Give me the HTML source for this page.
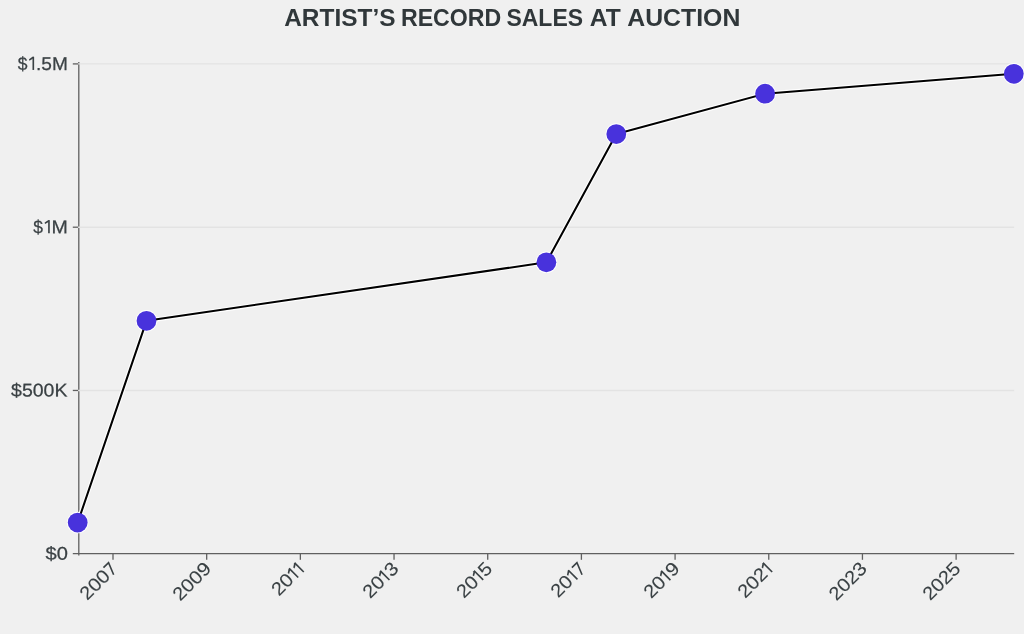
<!DOCTYPE html>
<html><head><meta charset="utf-8">
<style>
html,body{margin:0;padding:0;background:#f0f0f0;}
body{width:1024px;height:634px;overflow:hidden;font-family:"Liberation Sans",sans-serif;}
svg{display:block;will-change:transform;}
text{font-family:"Liberation Sans",sans-serif;}
</style></head><body>
<svg width="1024" height="634" viewBox="0 0 1024 634">

<g font-size="24.3" font-weight="bold" fill="#30373a">
<text transform="translate(284.24,26.4) rotate(0.02)" textLength="111.23" lengthAdjust="spacingAndGlyphs">ARTIST’S</text>
<text transform="translate(400.98,26.4) rotate(0.02)" textLength="100.22" lengthAdjust="spacingAndGlyphs">RECORD</text>
<text transform="translate(506.47,26.4) rotate(0.02)" textLength="76.57" lengthAdjust="spacingAndGlyphs">SALES</text>
<text transform="translate(589.73,26.4) rotate(0.02)" textLength="30.96" lengthAdjust="spacingAndGlyphs">AT</text>
<text transform="translate(627.23,26.4) rotate(0.02)" textLength="113.10" lengthAdjust="spacingAndGlyphs">AUCTION</text>
</g>
<g stroke="#606060" stroke-width="1.3" fill="none">
<line x1="78.8" x2="78.8" y1="62" y2="555.6"/>
<line x1="72.8" x2="1014.2" y1="553.7" y2="553.7"/>
<line x1="72.8" x2="78.8" y1="63.9" y2="63.9"/>
<line x1="72.8" x2="78.8" y1="227.2" y2="227.2"/>
<line x1="72.8" x2="78.8" y1="390.45" y2="390.45"/>
<line x1="113.00" x2="113.00" y1="553.7" y2="559.8"/>
<line x1="206.68" x2="206.68" y1="553.7" y2="559.8"/>
<line x1="300.36" x2="300.36" y1="553.7" y2="559.8"/>
<line x1="394.04" x2="394.04" y1="553.7" y2="559.8"/>
<line x1="487.72" x2="487.72" y1="553.7" y2="559.8"/>
<line x1="581.40" x2="581.40" y1="553.7" y2="559.8"/>
<line x1="675.08" x2="675.08" y1="553.7" y2="559.8"/>
<line x1="768.76" x2="768.76" y1="553.7" y2="559.8"/>
<line x1="862.44" x2="862.44" y1="553.7" y2="559.8"/>
<line x1="956.12" x2="956.12" y1="553.7" y2="559.8"/>
</g>
<g stroke="#e3e3e3" stroke-width="1.4">
<line x1="78.1" x2="1014.2" y1="63.9" y2="63.9"/>
<line x1="78.1" x2="1014.2" y1="227.2" y2="227.2"/>
<line x1="78.1" x2="1014.2" y1="390.45" y2="390.45"/>
</g>
<g font-size="18.5" fill="#3a4144" stroke="#3a4144" stroke-width="0.25">
<text transform="translate(17.69,69.95) rotate(0.03)" textLength="9.70" lengthAdjust="spacingAndGlyphs">$</text>
<text transform="translate(35.96,69.95) rotate(0.03)" textLength="31.82" lengthAdjust="spacingAndGlyphs">.5M</text>
<text transform="translate(33.29,233.25) rotate(0.03)" textLength="9.70" lengthAdjust="spacingAndGlyphs">$</text>
<text transform="translate(51.42,233.25) rotate(0.03)" textLength="16.32" lengthAdjust="spacingAndGlyphs">M</text>
<text transform="translate(11.04,396.50) rotate(0.03)" textLength="56.43" lengthAdjust="spacingAndGlyphs">$500K</text>
<text transform="translate(45.53,559.75) rotate(0.03)" textLength="22.31" lengthAdjust="spacingAndGlyphs">$0</text>
</g>
<path d="M33.30 69.95V56.85" fill="none" stroke="#3a4144" stroke-width="1.65"/><path d="M34.12 56.85L32.47 56.85L29.00 59.15L29.40 60.75L32.47 58.95Z" fill="#3a4144" stroke="none"/>
<path d="M48.95 233.25V220.15" fill="none" stroke="#3a4144" stroke-width="1.65"/><path d="M49.78 220.15L48.12 220.15L44.65 222.45L45.05 224.05L48.12 222.25Z" fill="#3a4144" stroke="none"/>
<g font-size="18.8" fill="#3a4144" stroke="#3a4144" stroke-width="0.1">
<g transform="translate(118.60,569.80) rotate(-45)">
<text x="-44.20" y="0" textLength="11.00" lengthAdjust="spacingAndGlyphs">2</text>
<text x="-33.20" y="0" textLength="11.40" lengthAdjust="spacingAndGlyphs">0</text>
<text x="-21.80" y="0" textLength="11.40" lengthAdjust="spacingAndGlyphs">0</text>
<path d="M-9.20 -12.20H-2.00L-7.00 0.00" fill="none" stroke="#3a4144" stroke-width="1.6" stroke-linejoin="miter" stroke-miterlimit="10"/>
</g>
<g transform="translate(212.28,569.80) rotate(-45)">
<text x="-45.20" y="0" textLength="11.00" lengthAdjust="spacingAndGlyphs">2</text>
<text x="-34.20" y="0" textLength="11.40" lengthAdjust="spacingAndGlyphs">0</text>
<text x="-22.80" y="0" textLength="11.40" lengthAdjust="spacingAndGlyphs">0</text>
<text x="-11.40" y="0" textLength="11.40" lengthAdjust="spacingAndGlyphs">9</text>
</g>
<g transform="translate(305.96,569.80) rotate(-45)">
<text x="-38.00" y="0" textLength="11.00" lengthAdjust="spacingAndGlyphs">2</text>
<text x="-27.00" y="0" textLength="11.40" lengthAdjust="spacingAndGlyphs">0</text>
<path d="M-10.90 0.00V-12.90" fill="none" stroke="#3a4144" stroke-width="1.65"/><path d="M-10.07 -12.90L-11.72 -12.90L-15.20 -10.60L-14.80 -9.00L-11.72 -10.80Z" fill="#3a4144" stroke="none"/>
<path d="M-3.10 0.00V-12.90" fill="none" stroke="#3a4144" stroke-width="1.65"/><path d="M-2.27 -12.90L-3.92 -12.90L-7.40 -10.60L-7.00 -9.00L-3.92 -10.80Z" fill="#3a4144" stroke="none"/>
</g>
<g transform="translate(399.64,569.80) rotate(-45)">
<text x="-41.50" y="0" textLength="11.00" lengthAdjust="spacingAndGlyphs">2</text>
<text x="-30.50" y="0" textLength="11.40" lengthAdjust="spacingAndGlyphs">0</text>
<path d="M-14.40 0.00V-12.90" fill="none" stroke="#3a4144" stroke-width="1.65"/><path d="M-13.58 -12.90L-15.23 -12.90L-18.70 -10.60L-18.30 -9.00L-15.23 -10.80Z" fill="#3a4144" stroke="none"/>
<text x="-11.30" y="0" textLength="11.30" lengthAdjust="spacingAndGlyphs">3</text>
</g>
<g transform="translate(493.32,569.80) rotate(-45)">
<text x="-41.40" y="0" textLength="11.00" lengthAdjust="spacingAndGlyphs">2</text>
<text x="-30.40" y="0" textLength="11.40" lengthAdjust="spacingAndGlyphs">0</text>
<path d="M-14.30 0.00V-12.90" fill="none" stroke="#3a4144" stroke-width="1.65"/><path d="M-13.48 -12.90L-15.12 -12.90L-18.60 -10.60L-18.20 -9.00L-15.12 -10.80Z" fill="#3a4144" stroke="none"/>
<text x="-11.20" y="0" textLength="11.20" lengthAdjust="spacingAndGlyphs">5</text>
</g>
<g transform="translate(587.00,569.80) rotate(-45)">
<text x="-40.60" y="0" textLength="11.00" lengthAdjust="spacingAndGlyphs">2</text>
<text x="-29.60" y="0" textLength="11.40" lengthAdjust="spacingAndGlyphs">0</text>
<path d="M-13.50 0.00V-12.90" fill="none" stroke="#3a4144" stroke-width="1.65"/><path d="M-12.68 -12.90L-14.33 -12.90L-17.80 -10.60L-17.40 -9.00L-14.33 -10.80Z" fill="#3a4144" stroke="none"/>
<path d="M-9.20 -12.20H-2.00L-7.00 0.00" fill="none" stroke="#3a4144" stroke-width="1.6" stroke-linejoin="miter" stroke-miterlimit="10"/>
</g>
<g transform="translate(680.68,569.80) rotate(-45)">
<text x="-41.60" y="0" textLength="11.00" lengthAdjust="spacingAndGlyphs">2</text>
<text x="-30.60" y="0" textLength="11.40" lengthAdjust="spacingAndGlyphs">0</text>
<path d="M-14.50 0.00V-12.90" fill="none" stroke="#3a4144" stroke-width="1.65"/><path d="M-13.68 -12.90L-15.33 -12.90L-18.80 -10.60L-18.40 -9.00L-15.33 -10.80Z" fill="#3a4144" stroke="none"/>
<text x="-11.40" y="0" textLength="11.40" lengthAdjust="spacingAndGlyphs">9</text>
</g>
<g transform="translate(774.36,569.80) rotate(-45)">
<text x="-41.20" y="0" textLength="11.00" lengthAdjust="spacingAndGlyphs">2</text>
<text x="-30.20" y="0" textLength="11.40" lengthAdjust="spacingAndGlyphs">0</text>
<text x="-18.80" y="0" textLength="11.00" lengthAdjust="spacingAndGlyphs">2</text>
<path d="M-3.10 0.00V-12.90" fill="none" stroke="#3a4144" stroke-width="1.65"/><path d="M-2.28 -12.90L-3.93 -12.90L-7.40 -10.60L-7.00 -9.00L-3.93 -10.80Z" fill="#3a4144" stroke="none"/>
</g>
<g transform="translate(868.04,569.80) rotate(-45)">
<text x="-44.70" y="0" textLength="11.00" lengthAdjust="spacingAndGlyphs">2</text>
<text x="-33.70" y="0" textLength="11.40" lengthAdjust="spacingAndGlyphs">0</text>
<text x="-22.30" y="0" textLength="11.00" lengthAdjust="spacingAndGlyphs">2</text>
<text x="-11.30" y="0" textLength="11.30" lengthAdjust="spacingAndGlyphs">3</text>
</g>
<g transform="translate(961.72,569.80) rotate(-45)">
<text x="-44.60" y="0" textLength="11.00" lengthAdjust="spacingAndGlyphs">2</text>
<text x="-33.60" y="0" textLength="11.40" lengthAdjust="spacingAndGlyphs">0</text>
<text x="-22.20" y="0" textLength="11.00" lengthAdjust="spacingAndGlyphs">2</text>
<text x="-11.20" y="0" textLength="11.20" lengthAdjust="spacingAndGlyphs">5</text>
</g>
</g>
<polyline points="77.7,522.6 146.5,320.8 546.4,262.3 616.3,134.1 765.1,93.7 1013.8,73.8" fill="none" stroke="#fff" stroke-opacity="1" stroke-width="4.2" stroke-linejoin="round"/>
<g fill="#fff" fill-opacity="1">
<circle cx="77.7" cy="522.6" r="10.75"/>
<circle cx="146.5" cy="320.8" r="10.75"/>
<circle cx="546.4" cy="262.3" r="10.75"/>
<circle cx="616.3" cy="134.1" r="10.75"/>
<circle cx="765.1" cy="93.7" r="10.75"/>
<circle cx="1013.8" cy="73.8" r="10.75"/>
</g>
<polyline points="77.7,522.6 146.5,320.8 546.4,262.3 616.3,134.1 765.1,93.7 1013.8,73.8" fill="none" stroke="#000" stroke-width="2.05" stroke-linejoin="round"/>
<g fill="#4832dc">
<circle cx="77.7" cy="522.6" r="9.9"/>
<circle cx="146.5" cy="320.8" r="9.9"/>
<circle cx="546.4" cy="262.3" r="9.9"/>
<circle cx="616.3" cy="134.1" r="9.9"/>
<circle cx="765.1" cy="93.7" r="9.9"/>
<circle cx="1013.8" cy="73.8" r="9.9"/>
</g>
</svg>
</body></html>
